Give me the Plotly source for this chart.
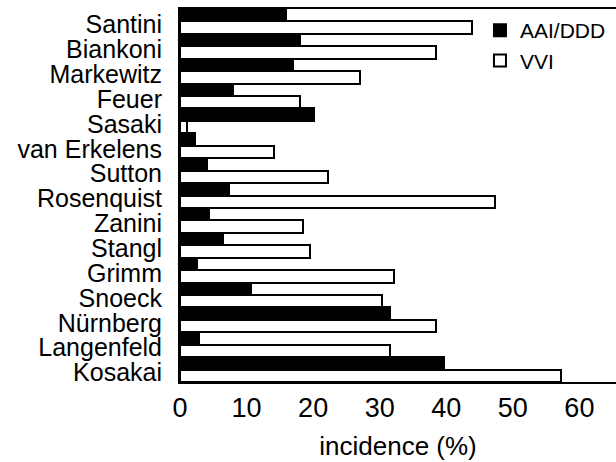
import plotly.graph_objects as go

studies = ["Santini", "Biankoni", "Markewitz", "Feuer", "Sasaki", "van Erkelens",
           "Sutton", "Rosenquist", "Zanini", "Stangl", "Grimm", "Snoeck",
           "Nürnberg", "Langenfeld", "Kosakai"]
aai_ddd = [15.9, 18.1, 17.0, 8.0, 20.1, 2.2, 4.1, 7.3, 4.4, 6.4, 2.6, 10.6, 31.6, 2.8, 39.6]
vvi = [43.8, 38.5, 27.0, 18.1, 1.1, 14.1, 22.2, 47.3, 18.5, 19.5, 32.2, 30.3, 38.5, 31.5, 57.3]
x_ticks = [0, 10, 20, 30, 40, 50, 60]

FONT = "Liberation Sans, Arial, sans-serif"

fig = go.Figure()
fig.add_trace(go.Bar(y=studies, x=aai_ddd, orientation="h", name="AAI/DDD",
                     marker=dict(color="black", line=dict(color="black", width=2))))
fig.add_trace(go.Bar(y=studies, x=vvi, orientation="h", name="VVI",
                     marker=dict(color="white", line=dict(color="black", width=2))))

fig.update_layout(
    width=616, height=462,
    margin=dict(l=180, r=0, t=9, b=80, autoexpand=False),
    paper_bgcolor="white", plot_bgcolor="white",
    barmode="group", bargap=0, bargroupgap=0,
    font=dict(family=FONT, color="black", size=25),
    showlegend=True,
    legend=dict(x=0.688, y=0.997, xanchor="left", yanchor="top",
                font=dict(size=21, family=FONT, color="black"),
                bgcolor="rgba(0,0,0,0)", tracegroupgap=0, itemsizing="constant"),
)
fig.update_xaxes(range=[0, 65.5], tickvals=x_ticks, showgrid=False, zeroline=False,
                 showline=True, linecolor="black", linewidth=2, mirror=True,
                 ticks="", ticklabelstandoff=1,
                 tickfont=dict(size=27, family=FONT),
                 title=dict(text="incidence (%)", font=dict(size=26, family=FONT), standoff=14))
fig.update_yaxes(autorange="reversed", tickmode="array", tickvals=studies, ticktext=studies,
                 showgrid=False, zeroline=False,
                 showline=True, linecolor="black", linewidth=2, mirror=False,
                 ticks="", ticklabelstandoff=11, ticklabelshift=-3,
                 tickfont=dict(size=25, family=FONT))

fig.write_html("out.html")
